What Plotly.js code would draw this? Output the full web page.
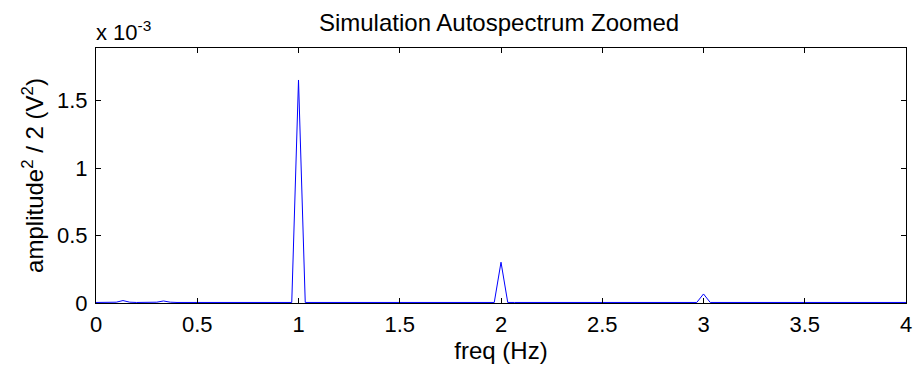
<!DOCTYPE html>
<html>
<head>
<meta charset="utf-8">
<script src="https://cdn.plot.ly/plotly-3.0.1.min.js"></script>
<style>html,body{margin:0;padding:0;background:#fff;}#chart{width:919px;height:376px;}</style>
</head>
<body>
<div id="chart"></div>
<script>
// frequency bins (Hz), resolution 1/30 Hz, 0 .. 4 Hz
const freqHz = [
  0.0000,0.0333,0.0667,0.1000,0.1333,0.1667,0.2000,0.2333,0.2667,0.3000,
  0.3333,0.3667,0.4000,0.4333,0.4667,0.5000,0.5333,0.5667,0.6000,0.6333,
  0.6667,0.7000,0.7333,0.7667,0.8000,0.8333,0.8667,0.9000,0.9333,0.9667,
  1.0000,1.0333,1.0667,1.1000,1.1333,1.1667,1.2000,1.2333,1.2667,1.3000,
  1.3333,1.3667,1.4000,1.4333,1.4667,1.5000,1.5333,1.5667,1.6000,1.6333,
  1.6667,1.7000,1.7333,1.7667,1.8000,1.8333,1.8667,1.9000,1.9333,1.9667,
  2.0000,2.0333,2.0667,2.1000,2.1333,2.1667,2.2000,2.2333,2.2667,2.3000,
  2.3333,2.3667,2.4000,2.4333,2.4667,2.5000,2.5333,2.5667,2.6000,2.6333,
  2.6667,2.7000,2.7333,2.7667,2.8000,2.8333,2.8667,2.9000,2.9333,2.9667,
  3.0000,3.0333,3.0667,3.1000,3.1333,3.1667,3.2000,3.2333,3.2667,3.3000,
  3.3333,3.3667,3.4000,3.4333,3.4667,3.5000,3.5333,3.5667,3.6000,3.6333,
  3.6667,3.7000,3.7333,3.7667,3.8000,3.8333,3.8667,3.9000,3.9333,3.9667,
  4.0000
];
// autospectrum (amplitude^2 / 2) in units of 1e-3 V^2
const powerE3 = [
  0.004,0.004,0.004,0.006,0.018,0.006,0.004,0.004,0.004,0.006,
  0.015,0.006,0.004,0.004,0.004,0.004,0.004,0.004,0.004,0.004,
  0.004,0.004,0.004,0.004,0.004,0.004,0.004,0.004,0.004,0.004,
  1.652,0.004,0.004,0.004,0.004,0.004,0.004,0.004,0.004,0.004,
  0.004,0.004,0.004,0.004,0.004,0.004,0.004,0.004,0.004,0.004,
  0.004,0.004,0.004,0.004,0.004,0.004,0.004,0.004,0.004,0.004,
  0.302,0.004,0.004,0.004,0.004,0.004,0.004,0.004,0.004,0.004,
  0.004,0.004,0.004,0.004,0.004,0.004,0.004,0.004,0.004,0.004,
  0.004,0.004,0.004,0.004,0.004,0.004,0.004,0.004,0.004,0.004,
  0.067,0.004,0.004,0.004,0.004,0.004,0.004,0.004,0.004,0.004,
  0.004,0.004,0.004,0.004,0.004,0.004,0.004,0.004,0.004,0.004,
  0.004,0.004,0.004,0.004,0.004,0.004,0.004,0.004,0.004,0.004,
  0.004
];
const xTicks = [0,0.5,1,1.5,2,2.5,3,3.5,4];
const xTickText = ['0','0.5','1','1.5','2','2.5','3','3.5','4'];
const yTicks = [0,0.5,1,1.5];
const yTickText = ['0','0.5','1','1.5'];

const FONT = 'Arial, "Liberation Sans", sans-serif';

const trace = {
  x: freqHz, y: powerE3, type: 'scatter', mode: 'lines',
  line: {color: 'rgb(0,0,255)', width: 1},
  hoverinfo: 'skip'
};

const layout = {
  width: 919, height: 376,
  margin: {l: 96, r: 13, t: 48, b: 73, pad: 0},
  paper_bgcolor: '#fff', plot_bgcolor: '#fff',
  showlegend: false,
  font: {family: FONT, color: '#000', size: 22},
  title: {text: 'Simulation Autospectrum Zoomed', x: 0.543, xanchor: 'center', y: 0.94, yanchor: 'middle',
          font: {family: FONT, size: 24, color: '#000'}},
  xaxis: {
    range: [0, 4], tickvals: xTicks, ticktext: xTickText,
    showline: true, linecolor: '#000', linewidth: 1, mirror: 'ticks',
    ticks: 'inside', ticklen: 5, tickcolor: '#000', showgrid: false, zeroline: false,
    tickfont: {family: FONT, size: 22, color: '#000'}, ticklabelstandoff: 2,
    title: {text: 'freq (Hz)', standoff: 4, font: {family: FONT, size: 24, color: '#000'}}
  },
  yaxis: {
    range: [0, 1.889], tickvals: yTicks, ticktext: yTickText,
    showline: true, linecolor: '#000', linewidth: 1, mirror: 'ticks',
    ticks: 'inside', ticklen: 5, tickcolor: '#000', showgrid: false, zeroline: false,
    tickfont: {family: FONT, size: 22, color: '#000'}, ticklabelstandoff: 3,
    title: {text: 'amplitude<sup>2</sup> / 2 (V<sup>2</sup>)', standoff: 6, font: {family: FONT, size: 24, color: '#000'}}
  },
  annotations: [{
    text: 'x 10<sup>-3</sup>', xref: 'paper', yref: 'paper', x: 0, y: 1, xanchor: 'left', yanchor: 'bottom',
    xshift: -2, yshift: 1, showarrow: false, font: {family: FONT, size: 22, color: '#000'}
  }]
};

Plotly.newPlot('chart', [trace], layout, {displayModeBar: false, staticPlot: true});
</script>
</body>
</html>
